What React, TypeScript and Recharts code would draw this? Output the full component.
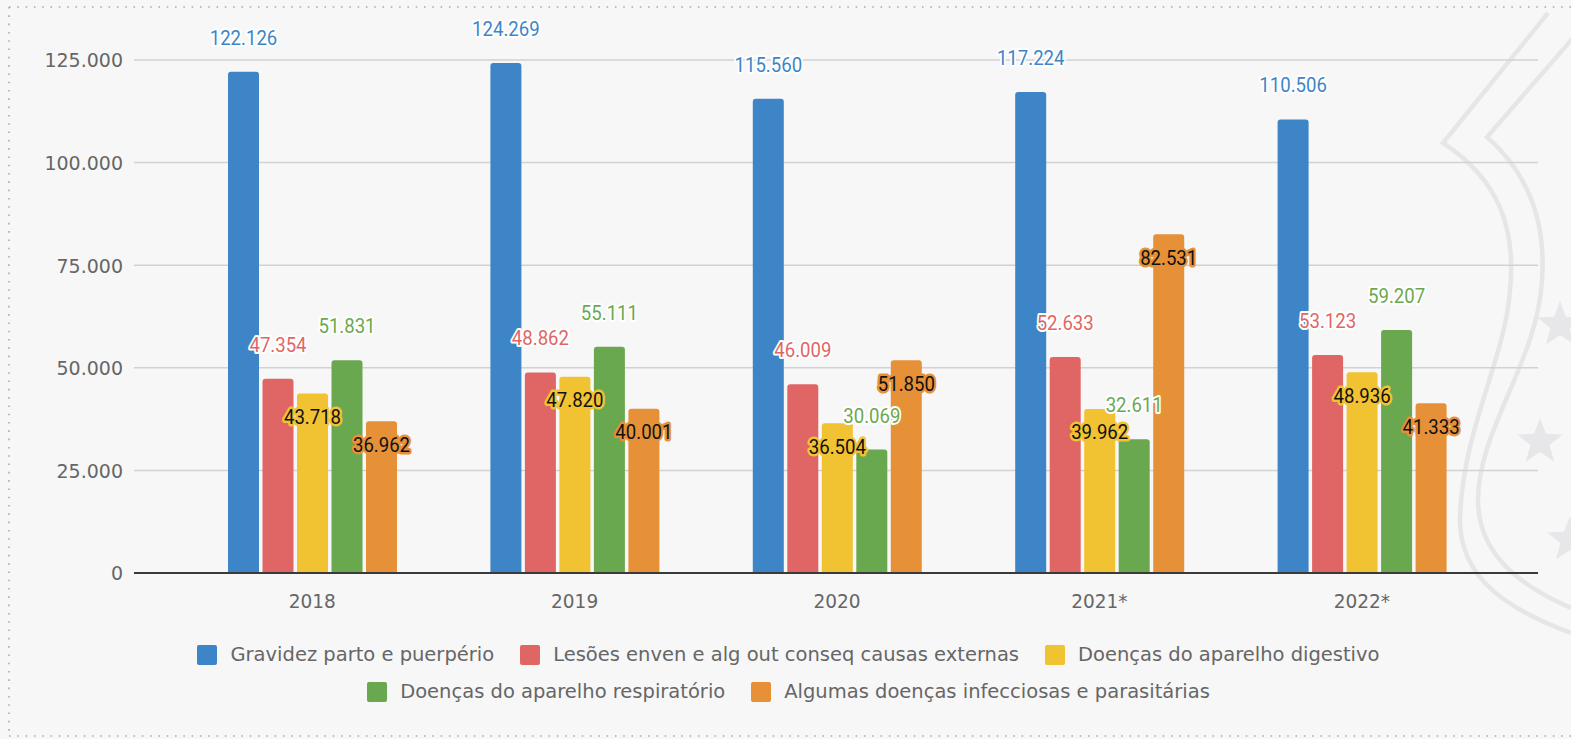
import React from 'react';
import { BarChart, Bar, XAxis, YAxis, CartesianGrid, LabelList } from 'recharts';

const years = ['2018', '2019', '2020', '2021*', '2022*'];
const gravidez = [122126, 124269, 115560, 117224, 110506];
const lesoes = [47354, 48862, 46009, 52633, 53123];
const digestivo = [43718, 47820, 36504, 39962, 48936];
const respiratorio = [51831, 55111, 30069, 32611, 59207];
const infecciosas = [36962, 40001, 51850, 82531, 41333];
const yTicks = [0, 25000, 50000, 75000, 100000, 125000];

const seriesKeys = ['gravidez', 'lesoes', 'digestivo', 'respiratorio', 'infecciosas'];
const seriesNames = [
  'Gravidez parto e puerpério',
  'Lesões enven e alg out conseq causas externas',
  'Doenças do aparelho digestivo',
  'Doenças do aparelho respiratório',
  'Algumas doenças infecciosas e parasitárias',
];
const seriesColors = ['#3d85c6', '#e06666', '#f1c232', '#6aa84f', '#e69138'];
const labelInside = [false, false, true, false, true];
const legendRows = [[0, 1, 2], [3, 4]];

const data = years.map((y, i) => ({
  year: y,
  gravidez: gravidez[i],
  lesoes: lesoes[i],
  digestivo: digestivo[i],
  respiratorio: respiratorio[i],
  infecciosas: infecciosas[i],
}));

const fmt = (v: number) => String(Math.round(v)).replace(/\B(?=(\d{3})+(?!\d))/g, '.');

const makeLabel = (idx: number) => (props: any) => {
  const { x, y, width, value } = props;
  const cx = Number(x) + Number(width) / 2;
  const inside = labelInside[idx];
  const color = seriesColors[idx];
  const baseY = inside ? Number(y) + 30.5 : Number(y) - 27;
  return (
    <text
      transform={`translate(${cx},${baseY}) scale(0.93,1)`}
      x={0}
      y={0}
      textAnchor="middle"
      fontFamily="Roboto"
      fontSize={20}
      fill={inside ? '#111' : color}
      stroke={inside ? color : '#ffffff'}
      strokeWidth={inside ? 5 : 4}
      strokeLinejoin="round"
      paintOrder="stroke"
    >
      {fmt(value)}
    </text>
  );
};

const XTick = (props: any) => {
  const { x, y, payload } = props;
  return (
    <text
      transform={`translate(${x},${Number(y) + 32.5}) scale(0.95,1)`}
      x={0}
      y={0}
      textAnchor="middle"
      fontFamily="DejaVu Sans"
      fontSize={19.5}
      fill="#666"
    >
      {payload.value}
    </text>
  );
};

const YTick = (props: any) => {
  const { x, y, payload } = props;
  return (
    <text
      transform={`translate(${x},${Number(y) + 7.3}) scale(0.95,1)`}
      x={0}
      y={0}
      textAnchor="end"
      fontFamily="DejaVu Sans"
      fontSize={20}
      fill="#666"
    >
      {fmt(payload.value)}
    </text>
  );
};

const star = (cx: number, cy: number, r: number) => {
  const pts: string[] = [];
  for (let k = 0; k < 10; k++) {
    const rr = k % 2 === 0 ? r : r * 0.42;
    const a = -Math.PI / 2 + (k * Math.PI) / 5;
    pts.push(`${cx + rr * Math.cos(a)},${cy + rr * Math.sin(a)}`);
  }
  return pts.join(' ');
};

export default function App() {
  return (
    <div style={{ position: 'absolute', left: 0, top: 0, width: 1571, height: 739, background: '#f7f7f8', overflow: 'hidden' }}>
      <svg width={1571} height={739} style={{ position: 'absolute', left: 0, top: 0 }}>
        <g fill="none" stroke="#e6e6e8" strokeWidth={4.5}>
          <path d="M1548 13 L1443 143 C1500 180 1516 230 1510 290 C1505 360 1462 430 1460 520 C1460 580 1510 610 1571 633" />
          <path d="M1580 30 L1487 137 C1530 175 1546 225 1542 280 C1538 360 1478 430 1478 500 C1478 560 1530 590 1571 608" />
        </g>
        <g fill="#e7e7e9">
          <polygon points={star(1560, 325, 24)} />
          <polygon points={star(1540, 442, 24)} />
          <polygon points={star(1570, 540, 24)} />
        </g>
        <g stroke="#aaa" strokeWidth={1.6} strokeDasharray="1.6 6.7" fill="none">
          <line x1={9} y1={7} x2={1571} y2={7} />
          <line x1={9} y1={7} x2={9} y2={736} />
          <line x1={9} y1={736} x2={1571} y2={736} />
        </g>
      </svg>
      <div style={{ position: 'absolute', left: 0, top: 0 }}>
        <BarChart
          width={1571}
          height={739}
          data={data}
          margin={{ top: 60, right: 33, bottom: 126, left: 0 }}
          barSize={31}
          barGap={3.5}
        >
          <CartesianGrid vertical={false} stroke="#d2d2d4" strokeWidth={1.5} />
          <YAxis
            width={134}
            domain={[0, 125000]}
            ticks={yTicks}
            axisLine={false}
            tickLine={false}
            tickSize={0}
            tickMargin={11}
            tick={<YTick />}
            interval={0}
          />
          <XAxis
            dataKey="year"
            height={40}
            padding={{ left: 47, right: 45 }}
            axisLine={{ stroke: '#3a3a3a', strokeWidth: 2 }}
            tickLine={false}
            tickSize={0}
            tick={<XTick />}
            interval={0}
          />
          {seriesKeys.map((k, i) => (
            <Bar key={k} dataKey={k} fill={seriesColors[i]} radius={[3, 3, 0, 0]} isAnimationActive={false}>
              <LabelList dataKey={k} content={makeLabel(i)} />
            </Bar>
          ))}
        </BarChart>
      </div>
      <div style={{ position: 'absolute', left: 0, top: 636, width: 1571, fontFamily: 'DejaVu Sans', fontSize: 19.5, color: '#666' }}>
        {legendRows.map((row, ri) => (
          <div key={ri} style={{ display: 'flex', justifyContent: 'center', height: 37, alignItems: 'center', paddingLeft: 6 }}>
            {row.map((si, j) => (
              <div key={si} style={{ display: 'flex', alignItems: 'center', marginLeft: j === 0 ? 0 : 26 }}>
                <div style={{ width: 20, height: 20, borderRadius: 2, background: seriesColors[si], marginRight: 13 }} />
                <span style={{ whiteSpace: 'nowrap' }}>{seriesNames[si]}</span>
              </div>
            ))}
          </div>
        ))}
      </div>
    </div>
  );
}
